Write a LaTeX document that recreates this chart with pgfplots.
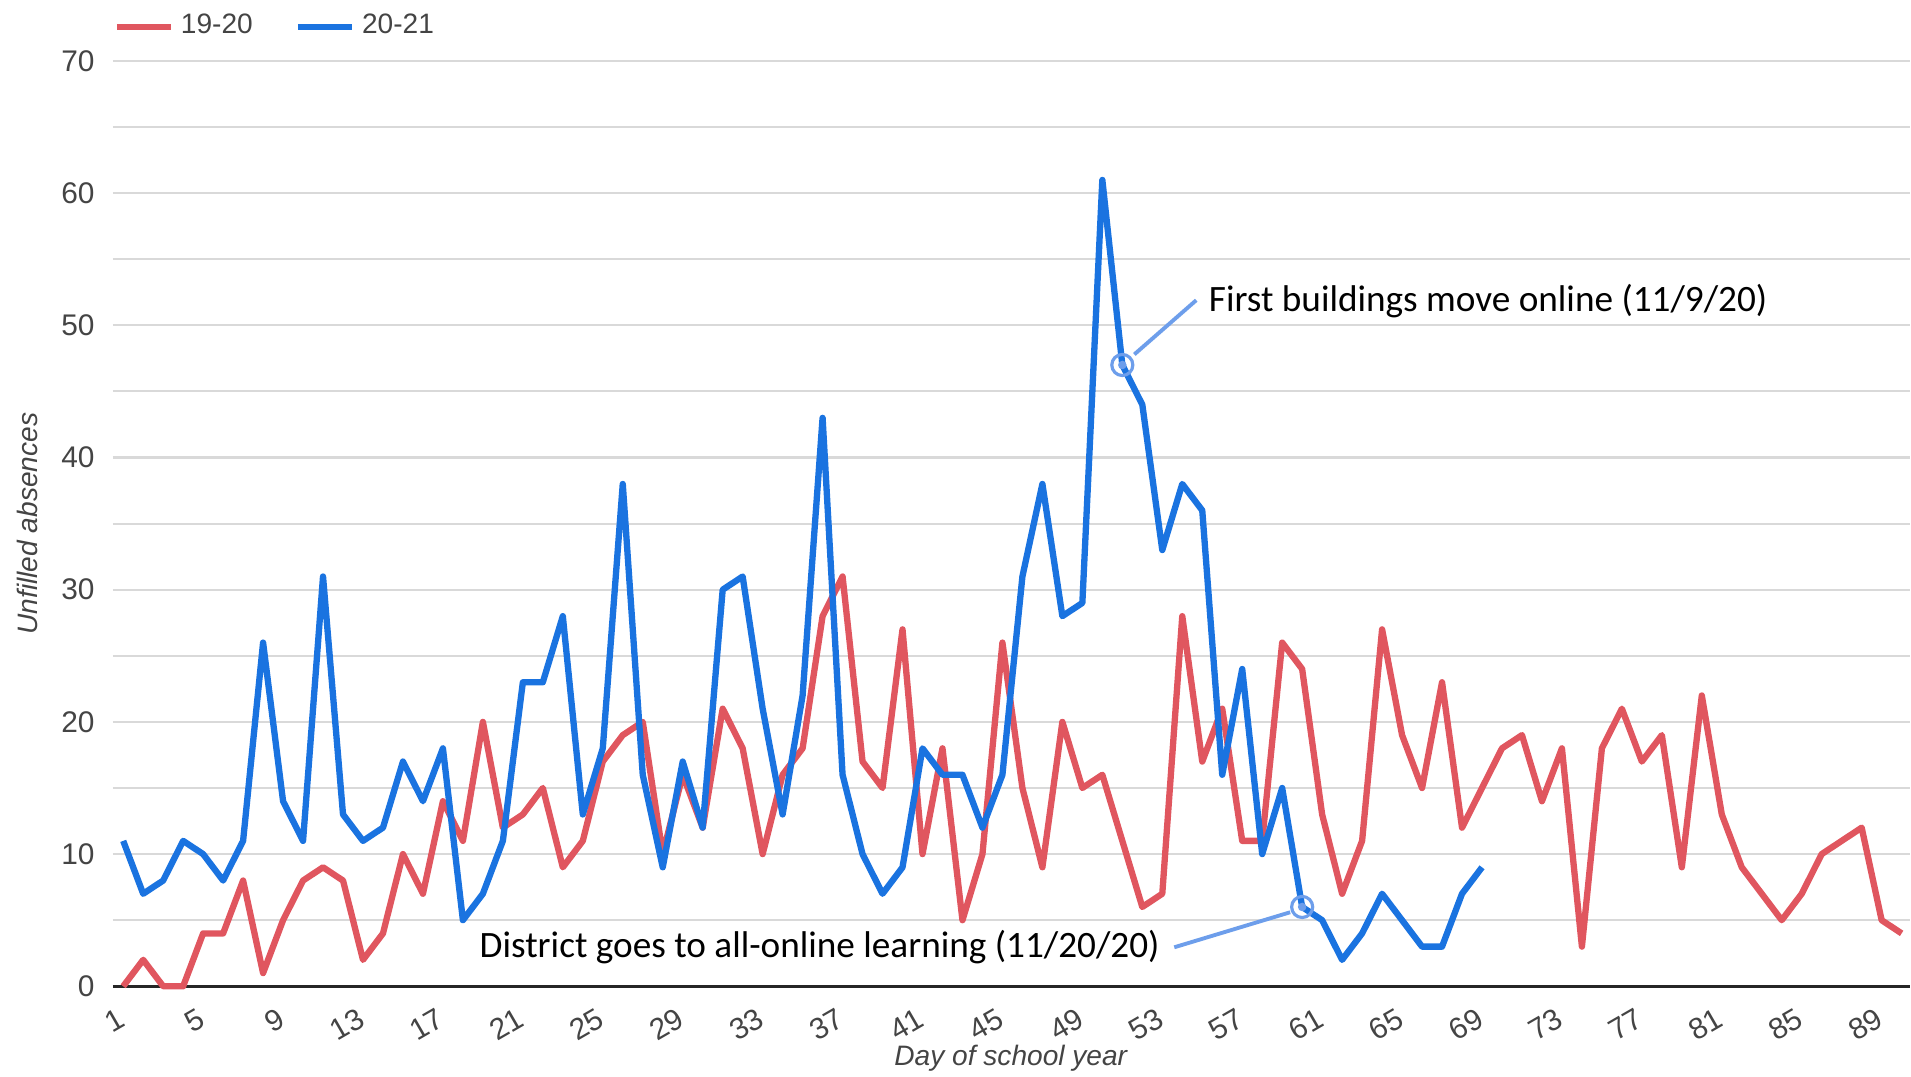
\documentclass[border=0pt]{standalone}
\usepackage{fontspec}
\setmainfont{Liberation Sans}
\newfontfamily\calib{Carlito}
\usepackage{pgfplots}
\pgfplotsset{compat=1.18}
\definecolor{redl}{HTML}{E0565F}
\definecolor{bluel}{HTML}{1A73E0}
\definecolor{annot}{HTML}{6D9EEB}
\definecolor{gridc}{HTML}{D9D9D9}
\definecolor{txt}{HTML}{444444}
\begin{document}
\begin{tikzpicture}
\begin{axis}[
 name=ax,
 scale only axis,
 width=17.98cm, height=9.26cm,
 xmin=0.485, xmax=90.4, ymin=0, ymax=70,
 clip=false,
 xtick={1,5,...,89},
 ytick={0,10,...,70},
 minor ytick={5,15,...,65},
 ymajorgrids, yminorgrids,
 major grid style={gridc, line width=0.6pt},
 minor grid style={gridc, line width=0.6pt},
 major tick length=0pt, minor tick length=0pt,
 axis line style={draw=none},
 tick label style={font=\fontsize{8.5}{10}\selectfont, text=txt},
 /pgf/number format/assume math mode=true,
 yticklabel style={anchor=east, xshift=-0.6mm},
 xticklabel style={rotate=30, anchor=north east, yshift=-0.2mm, xshift=-0.4mm},
 xlabel={\textit{Day of school year}},
 ylabel={\textit{Unfilled absences}},
 label style={font=\fontsize{8}{10}\selectfont, text=txt, inner sep=0pt},
 xlabel style={at={(axis description cs:0.5,-0.0778)}, anchor=center},
 ylabel style={at={(axis description cs:-0.0478,0.5)}, anchor=center},
 legend columns=2,
 legend style={at={(axis description cs:0,1)}, anchor=south west, draw=none, fill=none,
   font=\fontsize{8}{10}\selectfont, text=txt, inner sep=0pt, yshift=1.4mm,
   /tikz/every even column/.append style={column sep=3.5mm}},
 legend image code/.code={\draw[#1, line width=1.8pt] (0mm,0mm) -- (5.4mm,0mm);},
]
\draw[black!85, line width=0.8pt] (rel axis cs:0,0) -- (rel axis cs:1,0);
\addplot[redl, line width=1.8pt, line join=round] coordinates {
(1,0) (2,2) (3,0) (4,0) (5,4) (6,4) (7,8) (8,1) (9,5) (10,8)
(11,9) (12,8) (13,2) (14,4) (15,10) (16,7) (17,14) (18,11) (19,20) (20,12)
(21,13) (22,15) (23,9) (24,11) (25,17) (26,19) (27,20) (28,10) (29,16) (30,12)
(31,21) (32,18) (33,10) (34,16) (35,18) (36,28) (37,31) (38,17) (39,15) (40,27)
(41,10) (42,18) (43,5) (44,10) (45,26) (46,15) (47,9) (48,20) (49,15) (50,16)
(51,11) (52,6) (53,7) (54,28) (55,17) (56,21) (57,11) (58,11) (59,26) (60,24)
(61,13) (62,7) (63,11) (64,27) (65,19) (66,15) (67,23) (68,12) (69,15) (70,18)
(71,19) (72,14) (73,18) (74,3) (75,18) (76,21) (77,17) (78,19) (79,9) (80,22)
(81,13) (82,9) (83,7) (84,5) (85,7) (86,10) (87,11) (88,12) (89,5) (90,4)
};
\addlegendentry{19-20}
\addplot[bluel, line width=1.8pt, line join=round] coordinates {
(1,11) (2,7) (3,8) (4,11) (5,10) (6,8) (7,11) (8,26) (9,14) (10,11)
(11,31) (12,13) (13,11) (14,12) (15,17) (16,14) (17,18) (18,5) (19,7) (20,11)
(21,23) (22,23) (23,28) (24,13) (25,18) (26,38) (27,16) (28,9) (29,17) (30,12)
(31,30) (32,31) (33,21) (34,13) (35,22) (36,43) (37,16) (38,10) (39,7) (40,9)
(41,18) (42,16) (43,16) (44,12) (45,16) (46,31) (47,38) (48,28) (49,29) (50,61)
(51,47) (52,44) (53,33) (54,38) (55,36) (56,16) (57,24) (58,10) (59,15) (60,6)
(61,5) (62,2) (63,4) (64,7) (65,5) (66,3) (67,3) (68,7) (69,9)
};
\addlegendentry{20-21}
\addplot[annot, only marks, mark=o, mark size=3pt, mark options={line width=0.9pt}, forget plot] coordinates {(51,47) (60,6)};
\addplot[annot, only marks, mark=*, mark size=1pt, forget plot] coordinates {(51,47) (60,6)};
\draw[annot, line width=1.1pt] (axis cs:51.6,47.8) -- (axis cs:54.7,51.9);
\node[anchor=west, inner sep=0pt, font=\calib\fontsize{10.6}{12}\selectfont] at (axis cs:55.3,51.8) {First buildings move online (11/9/20)};
\draw[annot, line width=1.1pt] (axis cs:59.4,5.6) -- (axis cs:53.6,2.95);
\node[anchor=east, inner sep=0pt, font=\calib\fontsize{10.6}{12}\selectfont] at (axis cs:52.9,2.95) {District goes to all-online learning (11/20/20)};
\end{axis}
\path ([shift={(-11.3mm,-9.0mm)}]ax.south west) rectangle ([shift={(0mm,6.1mm)}]ax.north east);
\end{tikzpicture}
\end{document}
